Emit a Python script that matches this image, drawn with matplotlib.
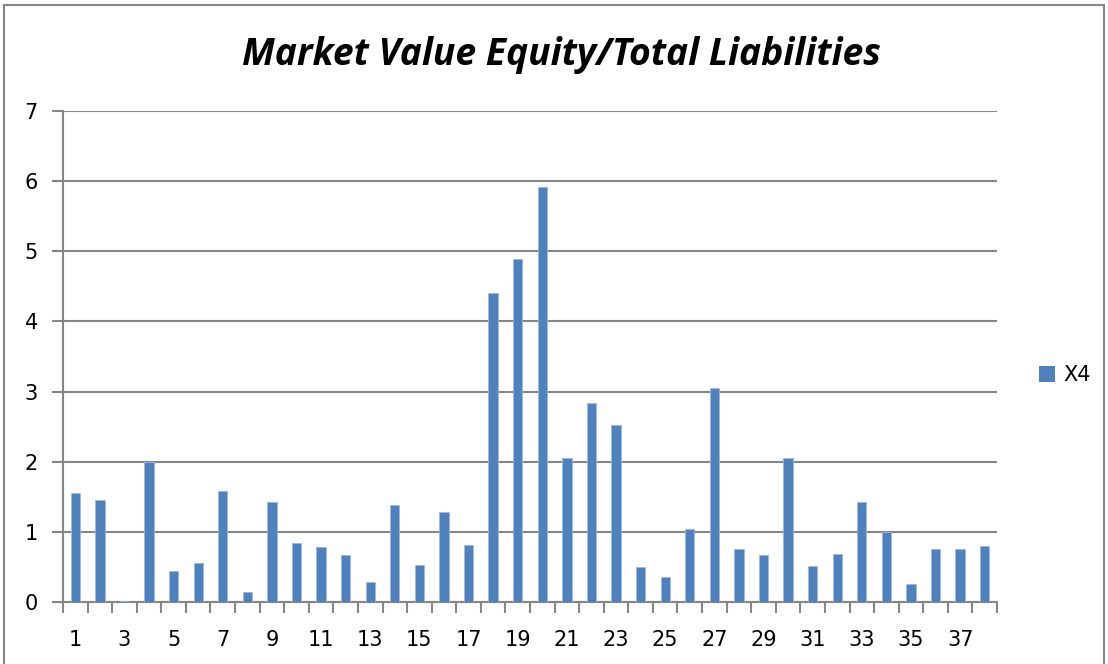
import numpy as np
import matplotlib.pyplot as plt
from matplotlib.patches import Rectangle, Patch

# Données
categories = list(range(1, 39))
x4 = [1.55, 1.45, 0.02, 1.99, 0.44, 0.55, 1.58, 0.14, 1.43, 0.84,
      0.79, 0.67, 0.28, 1.39, 0.53, 1.28, 0.81, 4.41, 4.89, 5.91,
      2.05, 2.83, 2.52, 0.50, 0.35, 1.04, 3.05, 0.76, 0.67, 2.05,
      0.52, 0.69, 1.42, 1.00, 0.25, 0.75, 0.75, 0.80]
yticks = [0, 1, 2, 3, 4, 5, 6, 7]

BAR_COLOR = '#4F81BD'
GRID_COLOR = '#868686'
W, H = 1108, 664

fig = plt.figure(figsize=(W / 100, H / 100), dpi=100)
ax = fig.add_axes([63 / W, 1 - 602 / H, (997 - 63) / W, (602 - 111) / H])

pos = np.arange(len(categories))
ax.bar(pos, x4, width=0.38, color=BAR_COLOR, edgecolor='#9DB8DB', linewidth=0.6,
       zorder=3, label='X4')

ax.set_xlim(-0.5, len(categories) - 0.5)
ax.set_ylim(0, 7)
ax.set_yticks(yticks)
ax.yaxis.grid(True, color=GRID_COLOR, linewidth=1.5, zorder=0)
ax.set_axisbelow(True)

# Etiquettes x un sur deux, graduations aux frontières des catégories
ax.set_xticks(pos[::2])
ax.set_xticklabels([str(c) for c in categories[::2]])
ax.set_xticks(np.arange(-0.5, len(categories), 1.0), minor=True)
ax.tick_params(axis='x', which='major', length=0, pad=20, labelsize=15)
ax.tick_params(axis='x', which='minor', length=8, width=1.5, color=GRID_COLOR, direction='out')
ax.tick_params(axis='y', which='major', length=8, width=1.5, color=GRID_COLOR,
               direction='out', pad=10, labelsize=15)

for s in ['top', 'right']:
    ax.spines[s].set_visible(False)
for s in ['left', 'bottom']:
    ax.spines[s].set_color(GRID_COLOR)
    ax.spines[s].set_linewidth(1.5)

fig.text(0.507, 1 - 55 / H, 'Market Value Equity/Total Liabilities', ha='center', va='center',
         fontsize=26.8, fontweight='bold', fontstyle='italic', family='Open Sans')

fig.legend(handles=[Patch(facecolor=BAR_COLOR, label='X4')], loc='center left',
           bbox_to_anchor=(1020 / W, 1 - 375 / H), frameon=False, fontsize=15,
           handlelength=0.8, handleheight=0.8, handletextpad=0.4)

# Cadre du graphique
fig.patches.append(Rectangle((4 / W, -0.05), (W - 8) / W, 1.05 - 5 / H, transform=fig.transFigure,
                             fill=False, edgecolor=GRID_COLOR, linewidth=1.5))

fig.savefig('out.png', dpi=100)
